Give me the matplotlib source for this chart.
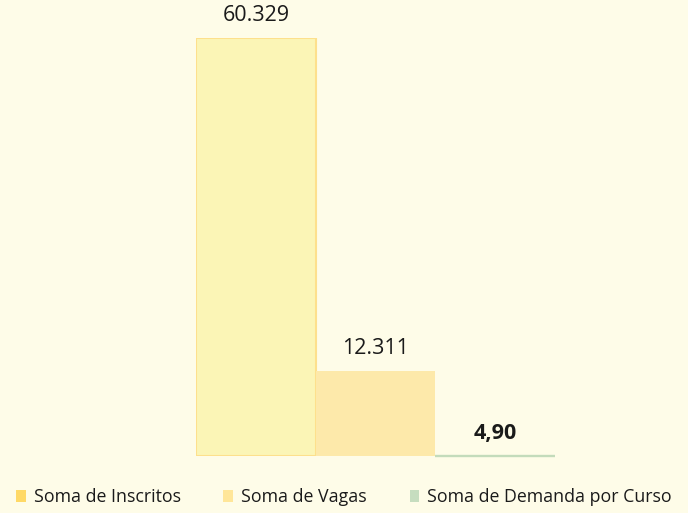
import matplotlib
matplotlib.use("Agg")
import matplotlib.pyplot as plt
from matplotlib.patches import Patch

plt.rcParams['font.family'] = ['Open Sans', 'DejaVu Sans']

series = ["Soma de Inscritos", "Soma de Vagas", "Soma de Demanda por Curso"]
values = [60329, 12311, 4.90]
labels = ["60.329", "12.311", "4,90"]
label_bold = [False, False, True]
fill_colors = ["#FBF5B6", "#FDE9AA", "#C3DBBB"]
edge_colors = ["#FDE08C", "#FDE9AA", "#C3DBBB"]
legend_colors = ["#FFD966", "#FFE699", "#C6DDBF"]

bg = "#FEFCE8"
fig = plt.figure(figsize=(6.88, 5.13), dpi=100, facecolor=bg)
ax = fig.add_axes([196/688, 57/513, 359/688, 418/513])
ax.set_facecolor(bg)

x = list(range(len(values)))
bars = ax.bar(x, values, width=1.0, color=fill_colors, edgecolor=edge_colors, linewidth=1.5)
bars[1].set_linewidth(0)
bars[2].set_linewidth(1.7)
bars[2].set_clip_on(False)
ax.set_xlim(-0.5, 2.5)
ax.set_ylim(0, max(values))
for b, lab, bold in zip(bars, labels, label_bold):
    ax.annotate(lab, (b.get_x() + b.get_width()/2, b.get_height()),
                xytext=(0, 8.5), textcoords="offset points", ha="center", va="bottom",
                fontsize=15.5, fontweight="bold" if bold else "normal", color="#1a1a1a",
                annotation_clip=False)
for s in ax.spines.values():
    s.set_visible(False)
ax.set_xticks([])
ax.set_yticks([])

handles = [Patch(facecolor=c, edgecolor="none") for c in legend_colors]
fig.legend(handles, series, loc="center", bbox_to_anchor=(0.5, 16/513), ncol=3,
           frameon=False, fontsize=12.8, handlelength=0.55, handleheight=0.7,
           handletextpad=0.45, columnspacing=2.4, labelcolor="#1a1a1a",
           borderaxespad=0, borderpad=0)

fig.savefig("out.png", dpi=100, facecolor=bg)
